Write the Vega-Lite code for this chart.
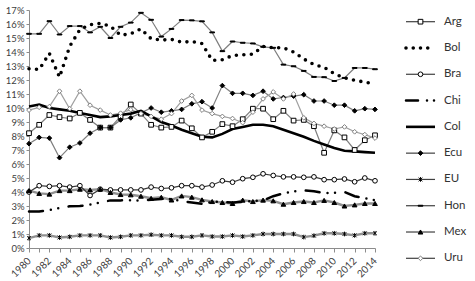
{
  "$schema": "https://vega.github.io/schema/vega-lite/v6.json",
  "padding": {"left": 5, "top": 5, "right": 0, "bottom": 0},
  "autosize": {"type": "pad"},
  "spacing": 31,
  "bounds": "flush",
  "config": {
    "view": {"stroke": null},
    "font": "Lato",
    "axis": {"domainColor": "#8c8c8c", "tickColor": "#8c8c8c", "labelColor": "#404040", "labelFont": "Lato", "labelFontSize": 9.5, "grid": false, "title": null}
  },
  "datasets": {
    "d": [
      {"yr":1980,"Arg":8.2,"Bol":12.8,"Bra":4.0,"Chi":2.6,"Col":10.1,"Ecu":7.45,"EU":0.7,"Hon":15.3,"Mex":4.1,"Uru":9.85},
      {"yr":1981,"Arg":8.8,"Bol":12.75,"Bra":4.45,"Chi":2.6,"Col":10.25,"Ecu":7.9,"EU":0.9,"Hon":15.3,"Mex":3.9,"Uru":10.05},
      {"yr":1982,"Arg":9.5,"Bol":13.9,"Bra":4.4,"Chi":2.72,"Col":10.0,"Ecu":7.85,"EU":0.9,"Hon":16.2,"Mex":3.85,"Uru":10.1},
      {"yr":1983,"Arg":9.35,"Bol":12.2,"Bra":4.45,"Chi":2.85,"Col":9.9,"Ecu":6.45,"EU":0.75,"Hon":15.25,"Mex":4.1,"Uru":11.2},
      {"yr":1984,"Arg":9.25,"Bol":14.4,"Bra":4.35,"Chi":2.98,"Col":9.8,"Ecu":7.2,"EU":0.8,"Hon":15.85,"Mex":4.1,"Uru":9.95},
      {"yr":1985,"Arg":9.65,"Bol":15.6,"Bra":4.45,"Chi":3.0,"Col":9.65,"Ecu":7.5,"EU":0.9,"Hon":15.85,"Mex":4.2,"Uru":11.2},
      {"yr":1986,"Arg":9.15,"Bol":15.95,"Bra":3.75,"Chi":3.1,"Col":9.5,"Ecu":8.2,"EU":0.9,"Hon":15.4,"Mex":4.15,"Uru":10.2},
      {"yr":1987,"Arg":8.6,"Bol":16.05,"Bra":4.2,"Chi":3.25,"Col":9.35,"Ecu":8.6,"EU":0.9,"Hon":15.8,"Mex":4.2,"Uru":9.85},
      {"yr":1988,"Arg":8.6,"Bol":15.85,"Bra":4.15,"Chi":3.4,"Col":9.4,"Ecu":8.6,"EU":0.75,"Hon":15.0,"Mex":3.97,"Uru":9.5},
      {"yr":1989,"Arg":9.4,"Bol":15.2,"Bra":4.15,"Chi":3.4,"Col":9.5,"Ecu":9.15,"EU":0.8,"Hon":15.8,"Mex":3.82,"Uru":9.63},
      {"yr":1990,"Arg":10.25,"Bol":15.3,"Bra":4.15,"Chi":3.42,"Col":9.6,"Ecu":9.3,"EU":0.9,"Hon":16.1,"Mex":3.8,"Uru":9.88},
      {"yr":1991,"Arg":9.6,"Bol":15.65,"Bra":4.15,"Chi":3.38,"Col":9.8,"Ecu":9.65,"EU":0.9,"Hon":16.8,"Mex":3.7,"Uru":9.6},
      {"yr":1992,"Arg":8.8,"Bol":14.95,"Bra":4.35,"Chi":3.45,"Col":9.4,"Ecu":10.0,"EU":0.95,"Hon":16.3,"Mex":3.55,"Uru":9.4},
      {"yr":1993,"Arg":8.6,"Bol":14.85,"Bra":4.25,"Chi":3.5,"Col":9.0,"Ecu":9.7,"EU":0.9,"Hon":15.1,"Mex":3.62,"Uru":9.2},
      {"yr":1994,"Arg":8.65,"Bol":14.9,"Bra":4.3,"Chi":3.5,"Col":8.75,"Ecu":9.8,"EU":0.9,"Hon":15.65,"Mex":3.43,"Uru":9.6},
      {"yr":1995,"Arg":9.1,"Bol":14.7,"Bra":4.45,"Chi":3.35,"Col":8.45,"Ecu":9.9,"EU":0.8,"Hon":16.28,"Mex":3.72,"Uru":10.5},
      {"yr":1996,"Arg":8.55,"Bol":14.75,"Bra":4.45,"Chi":3.25,"Col":8.2,"Ecu":10.3,"EU":0.8,"Hon":16.26,"Mex":3.63,"Uru":10.9},
      {"yr":1997,"Arg":7.9,"Bol":14.6,"Bra":4.35,"Chi":3.15,"Col":7.95,"Ecu":10.45,"EU":0.9,"Hon":16.19,"Mex":3.44,"Uru":9.85},
      {"yr":1998,"Arg":8.3,"Bol":13.4,"Bra":4.5,"Chi":3.3,"Col":7.9,"Ecu":10.0,"EU":0.82,"Hon":15.4,"Mex":3.32,"Uru":9.6},
      {"yr":1999,"Arg":8.85,"Bol":13.45,"Bra":4.8,"Chi":3.3,"Col":8.15,"Ecu":11.6,"EU":0.82,"Hon":14.06,"Mex":3.25,"Uru":9.4},
      {"yr":2000,"Arg":8.7,"Bol":13.75,"Bra":4.7,"Chi":3.25,"Col":8.5,"Ecu":11.05,"EU":0.9,"Hon":14.75,"Mex":3.18,"Uru":9.25},
      {"yr":2001,"Arg":9.2,"Bol":13.8,"Bra":4.95,"Chi":3.3,"Col":8.65,"Ecu":11.05,"EU":0.82,"Hon":14.66,"Mex":3.42,"Uru":8.95},
      {"yr":2002,"Arg":9.95,"Bol":13.85,"Bra":5.05,"Chi":3.35,"Col":8.8,"Ecu":10.9,"EU":0.9,"Hon":14.61,"Mex":3.32,"Uru":9.7},
      {"yr":2003,"Arg":9.95,"Bol":14.4,"Bra":5.3,"Chi":3.4,"Col":8.8,"Ecu":11.2,"EU":1.0,"Hon":14.37,"Mex":3.42,"Uru":10.65},
      {"yr":2004,"Arg":9.2,"Bol":14.3,"Bra":5.18,"Chi":3.7,"Col":8.7,"Ecu":10.65,"EU":1.0,"Hon":14.3,"Mex":3.37,"Uru":11.15},
      {"yr":2005,"Arg":9.8,"Bol":14.3,"Bra":5.08,"Chi":3.9,"Col":8.45,"Ecu":10.75,"EU":1.0,"Hon":13.1,"Mex":3.13,"Uru":10.65},
      {"yr":2006,"Arg":9.1,"Bol":14.0,"Bra":5.08,"Chi":4.05,"Col":8.2,"Ecu":10.85,"EU":1.0,"Hon":12.98,"Mex":3.25,"Uru":11.0},
      {"yr":2007,"Arg":9.15,"Bol":13.5,"Bra":5.05,"Chi":4.12,"Col":7.95,"Ecu":10.95,"EU":0.78,"Hon":12.65,"Mex":3.32,"Uru":9.3},
      {"yr":2008,"Arg":8.7,"Bol":13.1,"Bra":5.08,"Chi":4.05,"Col":7.65,"Ecu":10.5,"EU":0.88,"Hon":12.22,"Mex":3.25,"Uru":8.9},
      {"yr":2009,"Arg":6.8,"Bol":12.9,"Bra":4.88,"Chi":3.92,"Col":7.4,"Ecu":10.5,"EU":1.05,"Hon":12.2,"Mex":3.4,"Uru":8.7},
      {"yr":2010,"Arg":8.4,"Bol":12.45,"Bra":4.88,"Chi":3.95,"Col":7.15,"Ecu":10.2,"EU":1.05,"Hon":11.93,"Mex":3.25,"Uru":8.5},
      {"yr":2011,"Arg":7.9,"Bol":12.15,"Bra":4.93,"Chi":4.0,"Col":6.95,"Ecu":10.2,"EU":1.0,"Hon":12.15,"Mex":3.0,"Uru":8.65},
      {"yr":2012,"Arg":7.0,"Bol":11.98,"Bra":4.73,"Chi":3.7,"Col":6.9,"Ecu":9.8,"EU":0.9,"Hon":12.86,"Mex":3.08,"Uru":8.3},
      {"yr":2013,"Arg":7.7,"Bol":11.85,"Bra":5.0,"Chi":3.55,"Col":6.85,"Ecu":9.95,"EU":1.05,"Hon":12.86,"Mex":3.18,"Uru":8.1},
      {"yr":2014,"Arg":8.05,"Bol":11.7,"Bra":4.8,"Chi":3.42,"Col":6.8,"Ecu":9.9,"EU":1.05,"Hon":12.77,"Mex":3.18,"Uru":7.85}
    ],
    "leg": [
      {"s":"Arg"},{"s":"Bol"},{"s":"Bra"},{"s":"Chi"},{"s":"Col"},{"s":"Ecu"},{"s":"EU"},{"s":"Hon"},{"s":"Mex"},{"s":"Uru"}
    ]
  },
  "hconcat": [
    {
      "width": 346,
      "height": 238,
      "data": {"name": "d"},
      "transform": [{"fold": ["Arg","Bol","Bra","Chi","Col","Ecu","EU","Hon","Mex","Uru"], "as": ["s","v"]}],
      "encoding": {
        "x": {"field": "yr", "type": "quantitative",
          "scale": {"domain": [1980, 2014], "nice": false, "zero": false},
          "axis": {"values": [1980,1981,1982,1983,1984,1985,1986,1987,1988,1989,1990,1991,1992,1993,1994,1995,1996,1997,1998,1999,2000,2001,2002,2003,2004,2005,2006,2007,2008,2009,2010,2011,2012,2013,2014],
            "format": "d", "labelExpr": "datum.value % 2 == 0 ? datum.label : ''",
            "labelAngle": -45, "labelAlign": "right", "labelBaseline": "middle",
            "labelFontSize": 10, "tickSize": 4, "labelPadding": 7, "labelOverlap": false, "labelFlush": false}},
        "y": {"field": "v", "type": "quantitative",
          "scale": {"domain": [0, 17], "nice": false},
          "axis": {"values": [0,1,2,3,4,5,6,7,8,9,10,11,12,13,14,15,16,17],
            "labelExpr": "datum.value + '%'", "tickSize": 3, "labelPadding": 2, "labelOverlap": false, "labelFlush": false}}
      },
      "layer": [
        {
          "transform": [{"filter": {"field": "s", "oneOf": ["EU","Mex"]}}],
          "mark": {"type": "line", "strokeCap": "butt", "color": "#909090", "strokeWidth": 2.4},
          "encoding": {"detail": {"field": "s", "type": "nominal"}}
        },
        {
          "transform": [{"filter": {"field": "s", "oneOf": ["Arg","Ecu","Hon"]}}],
          "mark": {"type": "line", "strokeCap": "butt", "color": "#7f7f7f", "strokeWidth": 1.2},
          "encoding": {"detail": {"field": "s", "type": "nominal"}}
        },
        {
          "transform": [{"filter": {"field": "s", "equal": "Uru"}}],
          "mark": {"type": "line", "strokeCap": "butt", "color": "#a0a0a0", "strokeWidth": 1.2},
          "encoding": {}
        },
        {
          "transform": [{"filter": {"field": "s", "equal": "Bra"}}],
          "mark": {"type": "line", "strokeCap": "butt", "color": "#3a3a3a", "strokeWidth": 1.2},
          "encoding": {}
        },
        {
          "transform": [{"filter": {"field": "s", "equal": "Col"}}],
          "mark": {"type": "line", "color": "#000000", "strokeWidth": 2.6, "strokeCap": "butt"},
          "encoding": {}
        },
        {
          "transform": [{"filter": {"field": "s", "equal": "Bol"}}],
          "mark": {"type": "line", "color": "#000000", "strokeWidth": 3.6, "strokeCap": "round", "strokeDash": [0, 7.5]},
          "encoding": {}
        },
        {
          "transform": [{"filter": {"field": "s", "equal": "Chi"}}],
          "mark": {"type": "line", "color": "#000000", "strokeWidth": 2.5, "strokeCap": "round", "strokeDash": [14, 8, 0, 7.5, 0, 10.5]},
          "encoding": {}
        },
        {
          "transform": [{"filter": {"field": "s", "oneOf": ["Arg","Bra","Ecu","EU","Hon","Mex","Uru"]}}],
          "mark": {"type": "point", "opacity": 1, "strokeWidth": 1},
          "encoding": {
            "shape": {"field": "s", "type": "nominal", "legend": null,
              "scale": {"domain": ["Arg","Bra","Ecu","EU","Hon","Mex","Uru"],
                "range": ["square","circle","diamond","M0,-1V1M-0.8,-0.8L0.8,0.8M-0.8,0.8L0.8,-0.8","M-1,-0.2H1V0.2H-1Z","triangle-up","diamond"]}},
            "fill": {"field": "s", "type": "nominal", "legend": null,
              "scale": {"domain": ["Arg","Bra","Ecu","EU","Hon","Mex","Uru"],
                "range": ["#ffffff","#ffffff","#000000","transparent","#000000","#000000","#ffffff"]}},
            "stroke": {"field": "s", "type": "nominal", "legend": null,
              "scale": {"domain": ["Arg","Bra","Ecu","EU","Hon","Mex","Uru"],
                "range": ["#000000","#000000","#000000","#000000","#000000","#000000","#808080"]}},
            "size": {"field": "s", "type": "ordinal", "legend": null,
              "scale": {"domain": ["Arg","Bra","Ecu","EU","Hon","Mex","Uru"],
                "range": [22, 22, 14, 30, 45, 24, 40]}}
          }
        }
      ]
    },
    {
      "width": 29,
      "height": 260,
      "data": {"name": "leg"},
      "encoding": {
        "y": {"field": "s", "type": "nominal", "axis": null,
          "scale": {"type": "point", "domain": ["Arg","Bol","Bra","Chi","Col","Ecu","EU","Hon","Mex","Uru"], "padding": 0.445}}
      },
      "layer": [
        {
          "transform": [{"filter": {"field": "s", "oneOf": ["Arg","Bra","Ecu","EU","Hon","Mex","Uru"]}}],
          "mark": {"type": "rule", "strokeCap": "butt", "color": "#404040", "strokeWidth": 1.2},
          "encoding": {
            "x": {"datum": 0, "type": "quantitative", "scale": {"domain": [0, 1]}, "axis": null},
            "x2": {"datum": 1}
          }
        },
        {
          "transform": [{"filter": {"field": "s", "equal": "Col"}}],
          "mark": {"type": "rule", "color": "#000000", "strokeWidth": 2.6, "strokeCap": "butt"},
          "encoding": {"x": {"datum": 0, "type": "quantitative"}, "x2": {"datum": 1}}
        },
        {
          "transform": [{"filter": {"field": "s", "equal": "Bol"}}],
          "mark": {"type": "rule", "color": "#000000", "strokeWidth": 3.6, "strokeCap": "round", "strokeDash": [0, 7.25]},
          "encoding": {"x": {"datum": 0, "type": "quantitative"}, "x2": {"datum": 1}}
        },
        {
          "transform": [{"filter": {"field": "s", "equal": "Chi"}}],
          "mark": {"type": "rule", "color": "#000000", "strokeWidth": 2.5, "strokeCap": "round", "strokeDash": [12, 9, 0, 7, 0, 10]},
          "encoding": {"x": {"datum": 0, "type": "quantitative"}, "x2": {"datum": 1}}
        },
        {
          "transform": [{"filter": {"field": "s", "oneOf": ["Arg","Bra","Ecu","EU","Hon","Mex","Uru"]}}],
          "mark": {"type": "point", "opacity": 1, "strokeWidth": 1},
          "encoding": {
            "x": {"datum": 0.5, "type": "quantitative"},
            "shape": {"field": "s", "type": "nominal", "legend": null,
              "scale": {"domain": ["Arg","Bra","Ecu","EU","Hon","Mex","Uru"],
                "range": ["square","circle","diamond","M0,-1V1M-0.8,-0.8L0.8,0.8M-0.8,0.8L0.8,-0.8","M-1,-0.2H1V0.2H-1Z","triangle-up","diamond"]}},
            "fill": {"field": "s", "type": "nominal", "legend": null,
              "scale": {"domain": ["Arg","Bra","Ecu","EU","Hon","Mex","Uru"],
                "range": ["#ffffff","#ffffff","#000000","transparent","#000000","#000000","#ffffff"]}},
            "stroke": {"field": "s", "type": "nominal", "legend": null,
              "scale": {"domain": ["Arg","Bra","Ecu","EU","Hon","Mex","Uru"],
                "range": ["#000000","#000000","#000000","#000000","#000000","#000000","#808080"]}},
            "size": {"field": "s", "type": "ordinal", "legend": null,
              "scale": {"domain": ["Arg","Bra","Ecu","EU","Hon","Mex","Uru"],
                "range": [22, 22, 14, 30, 45, 24, 40]}}
          }
        },
        {
          "mark": {"type": "text", "align": "left", "baseline": "middle", "dx": 9, "fontSize": 11.5, "font": "Lato", "color": "#333333"},
          "encoding": {
            "x": {"datum": 1, "type": "quantitative"},
            "text": {"field": "s", "type": "nominal"}
          }
        }
      ]
    }
  ]
}
